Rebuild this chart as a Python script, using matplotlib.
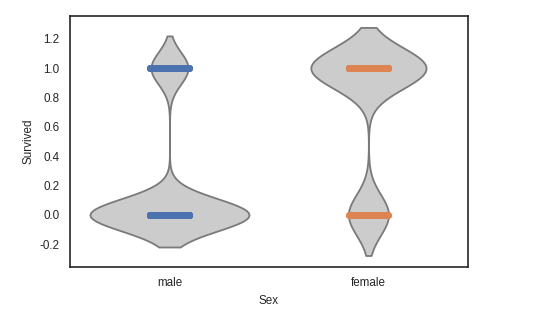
import numpy as np
import pandas as pd
import matplotlib
matplotlib.use("Agg")
import matplotlib.pyplot as plt
import seaborn as sns

# passenger counts per sex and survival outcome (Titanic)
sexos = ["male", "female"]
mortos = [468, 81]
sobreviventes = [109, 233]
cores = ["#4c72b0", "#dd8452"]

linhas = []
for sexo, m, s in zip(sexos, mortos, sobreviventes):
    linhas += [(sexo, 0)] * m + [(sexo, 1)] * s
df = pd.DataFrame(linhas, columns=["Sex", "Survived"])

sns.set_style("white")
plt.rcParams['font.family'] = ['Liberation Sans', 'DejaVu Sans']
plt.rcParams['font.size'] = 8.4
plt.rcParams['axes.unicode_minus'] = False

fig, ax = plt.subplots(figsize=(5.36, 3.14), dpi=100)
fig.subplots_adjust(left=0.1306, right=0.873, top=0.949, bottom=0.150)

sns.violinplot(data=df, x="Sex", y="Survived", order=sexos, color=".8",
               inner=None, linewidth=1.3, ax=ax)

# points spread evenly across the jitter band (instead of random jitter)
for i, sexo in enumerate(sexos):
    sub = df[df["Sex"] == sexo]
    for valor in [0, 1]:
        n = int((sub["Survived"] == valor).sum())
        xs = i + np.linspace(-0.1, 0.1, n)
        ax.scatter(xs, np.full(n, valor), s=25, color=cores[i], linewidth=0, zorder=3)

ax.set_xlim(-0.5, len(sexos) - 0.5)
ax.set_xlabel("Sex", fontsize=8.4)
ax.set_ylabel("Survived", fontsize=8.4)
ax.tick_params(labelsize=8.4, pad=4)
for sp in ax.spines.values():
    sp.set_color(".15")
    sp.set_linewidth(1.2)

plt.savefig("out.png", dpi=100)
